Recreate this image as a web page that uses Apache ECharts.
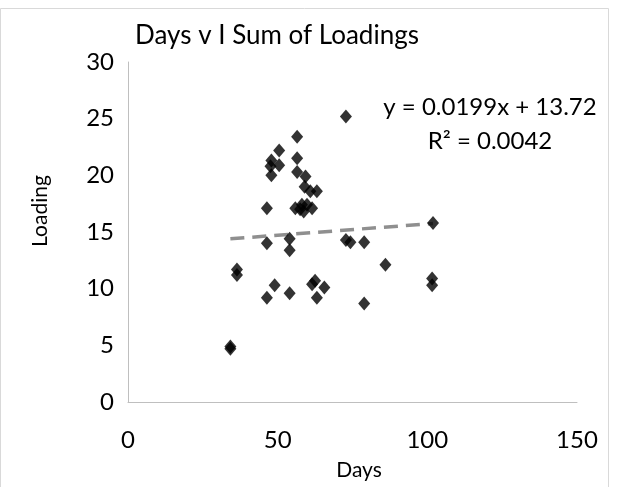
<!DOCTYPE html>
<html><head><meta charset="utf-8">
<script src="https://cdn.jsdelivr.net/npm/echarts@6/dist/echarts.min.js"></script>
<style>html,body{margin:0;padding:0;background:#fff}#c{width:622px;height:487px}</style>
</head><body><div id="c"></div>
<script>
const days = [72.8,56.5,50.5,56.5,47.9,50.5,47.6,47.9,56.5,59.3,59.0,60.9,63.1,46.4,55.9,58.1,59.8,58.7,61.5,57.5,46.4,54.0,54.0,72.8,74.3,78.9,49.0,46.4,54.0,61.5,62.5,65.6,63.1,78.9,36.4,36.4,34.2,34.2,101.9,86.0,101.6,101.6];
const loading = [25.2,23.4,22.2,21.5,21.3,20.9,20.8,20.0,20.3,19.9,19.0,18.6,18.6,17.1,17.1,17.4,17.4,16.8,17.1,17.0,14.0,14.4,13.4,14.3,14.1,14.1,10.3,9.2,9.6,10.4,10.7,10.1,9.2,8.7,11.7,11.2,4.9,4.7,15.8,12.1,10.9,10.3];
const slope = 0.0199, intercept = 13.72;
const xTicks = [0,50,100,150];
const yTicks = [0,5,10,15,20,25,30];
const titleText = 'Days v I Sum of Loadings';
const eqText = 'y = 0.0199x + 13.72';
const r2Text = 'R² = 0.0042';

const pts = days.map((d,i)=>[d,loading[i]]);
const xmin = Math.min(...days), xmax = Math.max(...days);
const trend = [[xmin, slope*xmin+intercept],[xmax, slope*xmax+intercept]];
const font = 'Lato, "Open Sans", sans-serif';
const chart = echarts.init(document.getElementById('c'));
chart.setOption({
  animation:false,
  backgroundColor:'#fff',
  title:{text:titleText,left:272,top:18,textAlign:'center',textStyle:{fontFamily:font,fontSize:26,fontWeight:'normal',color:'#000'}},
  grid:{left:128,right:45,top:62,bottom:85},
  xAxis:{type:'value',min:xTicks[0],max:xTicks[xTicks.length-1],interval:50,
    axisLine:{lineStyle:{color:'#bfbfbf',width:1}},axisTick:{show:false},splitLine:{show:false},
    axisLabel:{fontFamily:font,fontSize:24,color:'#000',margin:26}},
  yAxis:{type:'value',min:yTicks[0],max:yTicks[yTicks.length-1],interval:5,
    axisLine:{show:true,lineStyle:{color:'#bfbfbf',width:1}},axisTick:{show:false},splitLine:{show:false},
    axisLabel:{fontFamily:font,fontSize:24,color:'#000',margin:14}},
  graphic:[
    {type:'rect',shape:{x:0.5,y:8.5,width:608,height:490},style:{fill:'none',stroke:'#d9d9d9',lineWidth:1},silent:true},
    {type:'text',x:359,y:470,style:{text:'Days',font:'21px '+font,fill:'#000',textAlign:'center',textVerticalAlign:'middle'}},
    {type:'text',x:40,y:211,rotation:Math.PI/2,style:{text:'Loading',font:'21px '+font,fill:'#000',textAlign:'center',textVerticalAlign:'middle'}},
    {type:'text',x:490,y:107,style:{text:eqText,font:'24px '+font,fill:'#000',textAlign:'center',textVerticalAlign:'middle'}},
    {type:'text',x:490,y:141,style:{text:r2Text,font:'24px '+font,fill:'#000',textAlign:'center',textVerticalAlign:'middle'}}
  ],
  series:[
    {type:'line',data:trend,symbol:'none',lineStyle:{color:'#8f8f8f',width:3.5,type:[14,8]},z:1},
    {type:'scatter',data:pts,symbol:'diamond',symbolSize:[12,14],itemStyle:{color:'#000'},z:2}
  ]
});
</script></body></html>
